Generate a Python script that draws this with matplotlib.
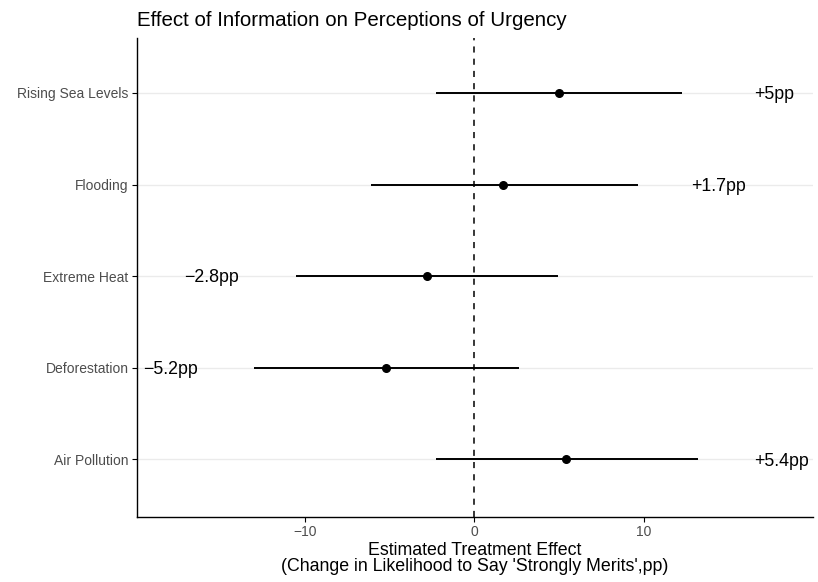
import matplotlib
matplotlib.use("Agg")
import matplotlib.pyplot as plt

categories = ["Air Pollution", "Deforestation", "Extreme Heat", "Flooding", "Rising Sea Levels"]
estimates = [5.4, -5.2, -2.8, 1.7, 5.0]
ci_low = [-2.25, -13.0, -10.5, -6.1, -2.25]
ci_high = [13.2, 2.65, 4.9, 9.65, 12.25]
labels = ["+5.4pp", "\u22125.2pp", "\u22122.8pp", "+1.7pp", "+5pp"]
xticks = [-10, 0, 10]
xtick_labels = ["\u221210", "0", "10"]

plt.rcParams['font.family'] = ['Liberation Sans', 'DejaVu Sans']

fig = plt.figure(figsize=(8.18, 5.82), dpi=100)
ax = fig.add_axes([0.1675, 0.1117, 0.826, 0.823])

ypos = list(range(1, len(categories) + 1))
for y in ypos:
    ax.axhline(y, color="#EBEBEB", lw=1.0, zorder=0)
ax.axvline(0, color="black", lw=1.1, ls=(0, (4, 4)), zorder=1)
for y, lo, hi in zip(ypos, ci_low, ci_high):
    ax.plot([lo, hi], [y, y], color="black", lw=1.4, solid_capstyle="butt", zorder=2)
ax.scatter(estimates, ypos, s=30, color="black", zorder=3)

offset = 12.7
for y, e, lab in zip(ypos, estimates, labels):
    x = e + offset if e >= 0 else e - offset
    ax.text(x, y - 0.02, lab, ha="center", va="center", fontsize=12.8, color="black")

ax.set_xlim(-19.9, 19.95)
ax.set_ylim(0.37, 5.6)
ax.set_yticks(ypos)
ax.set_yticklabels(categories, fontsize=10, color="#4D4D4D")
ax.set_xticks(xticks)
ax.set_xticklabels(xtick_labels, fontsize=10, color="#4D4D4D")
ax.tick_params(axis="both", length=3.5, width=0.8, color="black", pad=2.5)
for s in ["top", "right"]:
    ax.spines[s].set_visible(False)
for s in ["left", "bottom"]:
    ax.spines[s].set_linewidth(1.0)

ax.set_xlabel("Estimated Treatment Effect\n(Change in Likelihood to Say 'Strongly Merits',pp)",
              fontsize=12.8, labelpad=2, linespacing=0.95)
ax.set_title("Effect of Information on Perceptions of Urgency", loc="left", fontsize=14.8, pad=9)

fig.savefig("out.png", dpi=100)
